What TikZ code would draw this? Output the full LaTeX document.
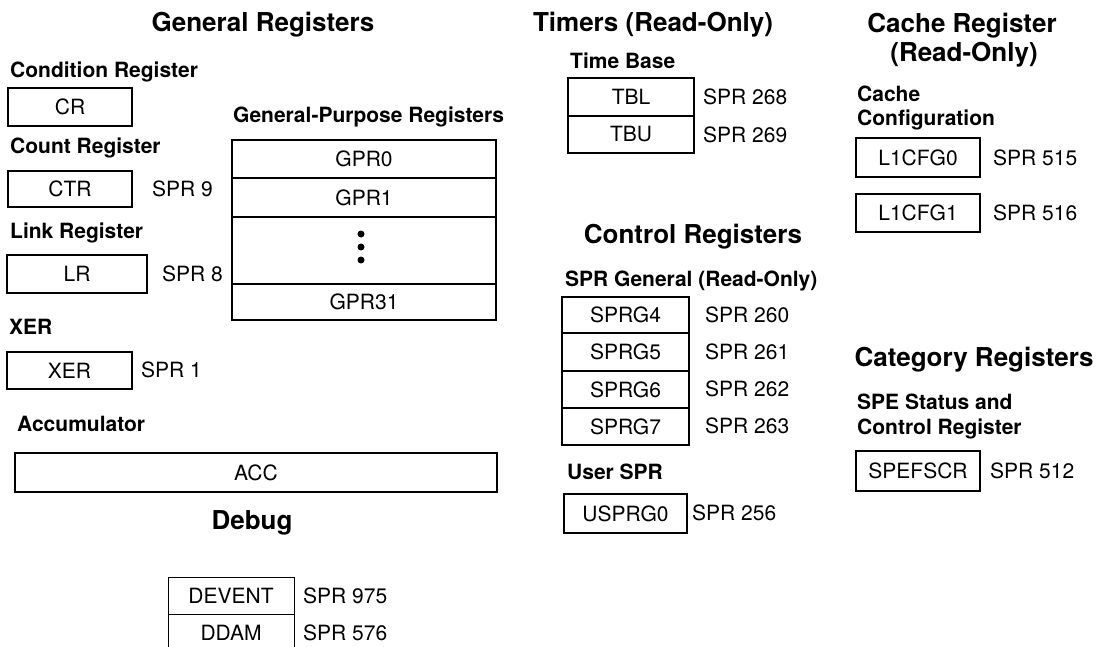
\documentclass[tikz,border=0pt]{standalone}
\usepackage{fontspec}
\setmainfont{TeX Gyre Heros}
\begin{document}
\begin{tikzpicture}[x=1pt,y=-1pt,
  txt/.style={font=\fontsize{21}{25}\selectfont, text height=15pt, text depth=0pt, inner sep=0pt},
  sub/.style={txt, font=\fontsize{21}{25}\selectfont\bfseries, anchor=west},
  ttl/.style={font=\fontsize{26}{31}\selectfont\bfseries, text height=18.7pt, text depth=0pt, inner sep=0pt},
  spr/.style={txt, anchor=west},
  reg/.style={txt, draw, line width=2.8pt},
  thinreg/.style={txt, draw, line width=1pt},
  dot/.style={circle, fill, inner sep=0pt, minimum size=7pt}
]
\useasboundingbox (0,0) rectangle (1099,647);
\clip (0,0) rectangle (1099,647);

% ---- General Registers ----
\node[ttl] (tgen) at (263,22) {General Registers};
\node[sub] (scr) at (10,70) {Condition Register};
\node[reg, minimum width=124pt, minimum height=38pt] (cr) at (70,107) {CR};
\node[sub] (sctr) at (10,146) {Count Register};
\node[reg, minimum width=124pt, minimum height=36pt] (ctr) at (70,189) {CTR};
\node[spr] (sctrn) at (152,189) {SPR 9};
\node[sub] (slr) at (10,231) {Link Register};
\node[reg, minimum width=140pt, minimum height=38pt] (lr) at (77,274) {LR};
\node[spr] (slrn) at (162,274) {SPR 8};
\node[sub] (sxer) at (9,327) {XER};
\node[reg, minimum width=125pt, minimum height=37pt] (xer) at (69.5,370.5) {XER};
\node[spr] (sxern) at (141,370) {SPR 1};
\node[sub] (sacc) at (17,424) {Accumulator};
\node[reg, minimum width=482pt, minimum height=39pt] (acc) at (256,472.5) {ACC};

% GPRs
\node[sub] (sgpr) at (233,115) {General-Purpose Registers};
\node[reg, minimum width=264pt, minimum height=38pt] (gpr0) at (364,159) {GPR0};
\node[reg, minimum width=264pt, minimum height=39pt] (gpr1) at (364,197.5) {GPR1};
\node[reg, minimum width=264pt, minimum height=67pt] (gprx) at (364,250.5) {};
\node[reg, minimum width=264pt, minimum height=36pt] (gpr31) at (364,302) {GPR31};
\node[dot] (d1) at (361,234) {};
\node[dot] (d2) at (361,247) {};
\node[dot] (d3) at (361,260) {};

% Debug
\node[ttl] (tdbg) at (252,520) {Debug};
\node[thinreg, minimum width=126pt, minimum height=37pt] (devent) at (231,595.5) {DEVENT};
\node[spr] (sdevent) at (303,596) {SPR 975};
\node[thinreg, minimum width=126pt, minimum height=37pt] (ddam) at (231,632.5) {DDAM};
\node[spr] (sddam) at (303,633) {SPR 576};

% ---- Timers ----
\node[ttl] (ttim) at (653,22) {Timers (Read-Only)};
\node[sub] (stb) at (570,61) {Time Base};
\node[reg, minimum width=126pt, minimum height=38pt] (tbl) at (631,97) {TBL};
\node[reg, minimum width=126pt, minimum height=37pt] (tbu) at (631,134.5) {TBU};
\node[spr] (stbl) at (703,97) {SPR 268};
\node[spr] (stbu) at (703,135) {SPR 269};

% ---- Control Registers ----
\node[ttl] (tctl) at (693,234) {Control Registers};
\node[sub] (ssprg) at (565,279) {SPR General (Read-Only)};
\node[reg, minimum width=127pt, minimum height=36pt] (sprg4) at (625.5,315) {SPRG4};
\node[reg, minimum width=127pt, minimum height=38pt] (sprg5) at (625.5,352) {SPRG5};
\node[reg, minimum width=127pt, minimum height=37pt] (sprg6) at (625.5,389.5) {SPRG6};
\node[reg, minimum width=127pt, minimum height=37pt] (sprg7) at (625.5,426.5) {SPRG7};
\node[spr] (s260) at (705,315) {SPR 260};
\node[spr] (s261) at (705,352) {SPR 261};
\node[spr] (s262) at (705,389) {SPR 262};
\node[spr] (s263) at (705,426) {SPR 263};
\node[sub] (susr) at (567,472) {User SPR};
\node[reg, minimum width=123pt, minimum height=39pt] (usprg0) at (625.5,513.5) {USPRG0};
\node[spr] (s256) at (692,513) {SPR 256};

% ---- Cache Register ----
\node[ttl, align=center] (tcache1) at (962,23) {Cache Register};
\node[ttl] (tcache2) at (964,52) {(Read-Only)};
\node[sub] (scc1) at (857,94) {Cache};
\node[sub] (scc2) at (857,118) {Configuration};
\node[reg, minimum width=124pt, minimum height=39pt] (l1cfg0) at (918,157.5) {L1CFG0};
\node[spr] (s515) at (993,158) {SPR 515};
\node[reg, minimum width=124pt, minimum height=38pt] (l1cfg1) at (918,213) {L1CFG1};
\node[spr] (s516) at (993,213) {SPR 516};

% ---- Category Registers ----
\node[ttl] (tcat) at (974,357) {Category Registers};
\node[sub] (sspe1) at (857,402) {SPE Status and};
\node[sub] (sspe2) at (857,427) {Control Register};
\node[reg, minimum width=124pt, minimum height=40pt] (spefscr) at (918,471) {SPEFSCR};
\node[spr] (s512) at (990,471) {SPR 512};
\end{tikzpicture}
\end{document}
